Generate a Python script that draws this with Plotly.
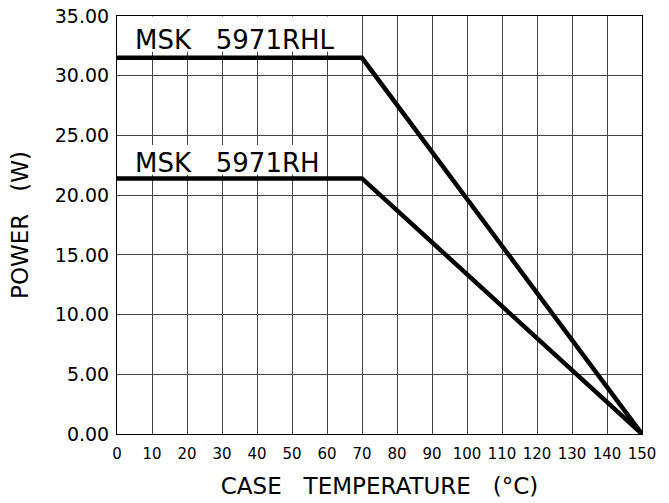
import plotly.graph_objects as go

# Data
temp_points = [0, 70, 150]
rhl_power = [31.5, 31.5, 0.0]
rh_power = [21.4, 21.4, 0.0]
series_names = ["MSK\u00a0\u00a0\u00a05971RHL", "MSK\u00a0\u00a0\u00a05971RH"]
x_ticks = list(range(0, 151, 10))
y_ticks = [0, 5, 10, 15, 20, 25, 30, 35]
y_tick_text = ["0.00", "5.00", "10.00", "15.00", "20.00", "25.00", "30.00", "35.00"]

FONT = "DejaVu Sans"
W = 400

fig = go.Figure()
for ys, name in zip([rhl_power, rh_power], series_names):
    fig.add_trace(go.Scatter(x=temp_points, y=ys, mode="lines", name=name,
                             line=dict(color="black", width=4.5), showlegend=False))

# white masks behind the labels (hide grid, under traces)
fig.add_shape(type="rect", layer="between", x0=0, x1=66, y0=32.0, y1=34.95,
              fillcolor="white", line=dict(width=0))
fig.add_shape(type="rect", layer="between", x0=0, x1=58.5, y0=21.7, y1=24.2,
              fillcolor="white", line=dict(width=0))

fig.add_annotation(x=4.6, y=33.02, text=series_names[0], showarrow=False,
                   xanchor="left", yanchor="middle",
                   font=dict(family=FONT, size=26, color="black", weight=W))
fig.add_annotation(x=4.6, y=22.72, text=series_names[1], showarrow=False,
                   xanchor="left", yanchor="middle",
                   font=dict(family=FONT, size=26, color="black", weight=W))

fig.update_xaxes(range=[0, 150], tickvals=x_ticks, ticktext=[str(v) for v in x_ticks],
                 showgrid=True, gridcolor="#444", gridwidth=1,
                 showline=True, linecolor="black", linewidth=1, mirror=True,
                 zeroline=False, ticks="", ticklabelstandoff=6, automargin=False,
                 ticklabeloverflow="allow",
                 tickfont=dict(family=FONT, size=15, color="black", weight=W),
                 title=dict(text="CASE\u00a0\u00a0\u00a0TEMPERATURE\u00a0\u00a0\u00a0(°C)", standoff=15,
                            font=dict(family=FONT, size=23, color="black", weight=W)))
fig.update_yaxes(range=[0, 35], tickvals=y_ticks, ticktext=y_tick_text,
                 showgrid=True, gridcolor="#444", gridwidth=1,
                 showline=True, linecolor="black", linewidth=1, mirror=True,
                 zeroline=False, ticks="", automargin=False, ticklabelstandoff=3,
                 ticklabeloverflow="allow",
                 tickfont=dict(family=FONT, size=19, color="black", weight=W),
                 title=dict(text="POWER\u00a0\u00a0\u00a0(W)", standoff=19,
                            font=dict(family=FONT, size=23, color="black", weight=W)))

fig.update_layout(width=669, height=503, margin=dict(l=117, r=27, t=16, b=69),
                  plot_bgcolor="white", paper_bgcolor="white")

fig.write_html("out.html", config={"displayModeBar": False},
               post_script="document.body.style.margin='0';document.body.style.overflow='hidden';")
